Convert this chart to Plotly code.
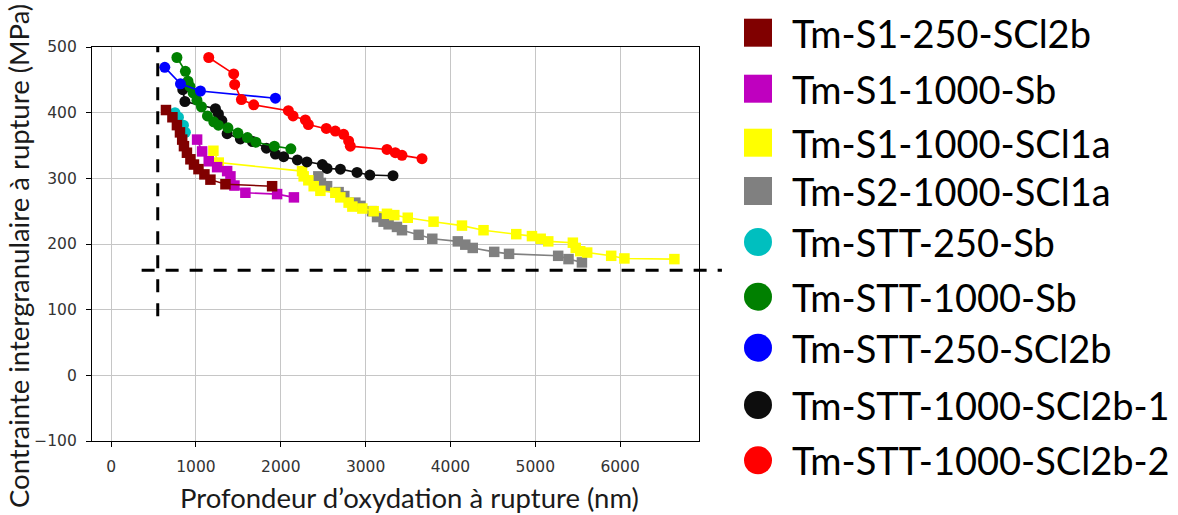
import plotly.graph_objects as go

# ---------------- data ----------------
names = ["Tm-S1-250-SCl2b", "Tm-S1-1000-Sb", "Tm-S1-1000-SCl1a", "Tm-S2-1000-SCl1a",
         "Tm-STT-250-Sb", "Tm-STT-1000-Sb", "Tm-STT-250-SCl2b",
         "Tm-STT-1000-SCl2b-1", "Tm-STT-1000-SCl2b-2"]
colors = ["#800000", "#bf00bf", "#ffff00", "#808080",
          "#00bfbf", "#008000", "#0000ff", "#0d0d0d", "#ff0000"]
symbols = ["square", "square", "square", "square",
           "circle", "circle", "circle", "circle", "circle"]

s1_250_scl2b_x = [647, 723, 776, 812, 838, 859, 894, 935, 977, 1030, 1100, 1171, 1348, 1898]
s1_250_scl2b_y = [404, 393, 381, 370, 359, 349, 339, 329, 321, 314, 306, 298, 291, 288]

s1_1000_sb_x = [1014, 1073, 1151, 1250, 1368, 1407, 1454, 1583, 1957, 2155]
s1_1000_sb_y = [359, 341, 326, 317, 311, 303, 289, 278, 276, 271]

s1_1000_scl1a_x = [1206, 1269, 2251, 2270, 2325, 2388, 2467, 2643, 2702, 2800, 2844, 2962,
                   3095, 3252, 3338, 3497, 3801, 4136, 4390, 4776, 4961, 5064, 5153, 5443,
                   5477, 5530, 5612, 5895, 6051, 6640]
s1_1000_scl1a_y = [342, 324, 311, 303, 297, 288, 281, 278, 271, 263, 257, 254,
                   250, 246, 244, 240, 234, 228, 221, 215, 212, 208, 204, 202,
                   194, 189, 187, 182, 178, 177]

s2_1000_scl1a_x = [2443, 2473, 2546, 2682, 2749, 2879, 2938, 3076, 3135, 3212, 3271, 3370,
                   3429, 3625, 3786, 4087, 4175, 4263, 4516, 4691, 5270, 5392, 5550]
s2_1000_scl1a_y = [303, 293, 288, 279, 273, 263, 258, 250, 241, 234, 230, 226,
                   221, 214, 208, 204, 199, 194, 188, 185, 182, 177, 172]

stt_250_sb_x = [753, 794, 853, 876]
stt_250_sb_y = [400, 393, 381, 370]

stt_1000_sb_x = [776, 876, 906, 929, 967, 1012, 1065, 1136, 1210, 1265, 1377, 1495,
                 1607, 1707, 1925, 2119]
stt_1000_sb_y = [484, 463, 448, 440, 430, 419, 409, 395, 386, 381, 377, 369,
                 362, 355, 349, 345]

stt_250_scl2b_x = [633, 818, 1053, 1937]
stt_250_scl2b_y = [469, 444, 433, 422]

stt_1000_scl2b1_x = [845, 870, 1230, 1265, 1306, 1368, 1524, 1666, 1831, 1937, 2034, 2196,
                     2308, 2490, 2546, 2703, 2899, 3050, 3323]
stt_1000_scl2b1_y = [435, 417, 406, 398, 388, 368, 360, 356, 346, 337, 333, 328,
                     325, 321, 315, 314, 309, 305, 304]

stt_1000_scl2b2_x = [1151, 1445, 1457, 1536, 1681, 2090, 2145, 2290, 2325, 2537, 2643, 2741,
                     2800, 2820, 3252, 3350, 3429, 3665]
stt_1000_scl2b2_y = [484, 459, 443, 420, 412, 403, 395, 389, 382, 376, 372, 367,
                     357, 349, 344, 339, 335, 330]

series_x = [s1_250_scl2b_x, s1_1000_sb_x, s1_1000_scl1a_x, s2_1000_scl1a_x, stt_250_sb_x,
            stt_1000_sb_x, stt_250_scl2b_x, stt_1000_scl2b1_x, stt_1000_scl2b2_x]
series_y = [s1_250_scl2b_y, s1_1000_sb_y, s1_1000_scl1a_y, s2_1000_scl1a_y, stt_250_sb_y,
            stt_1000_sb_y, stt_250_scl2b_y, stt_1000_scl2b1_y, stt_1000_scl2b2_y]

# threshold guide lines (nm, MPa)
depth_threshold = 550
stress_threshold = 160
vline_y_span = [90, 500]
hline_x_span = [360, 7200]

x_ticks = [0, 1000, 2000, 3000, 4000, 5000, 6000]
y_ticks = [-100, 0, 100, 200, 300, 400, 500]
x_title = "Profondeur d\u2019oxydation \u00e0 rupture (nm)"
y_title = "Contrainte intergranulaire \u00e0 rupture (MPa)"

# ---------------- layout geometry (pixels) ----------------
W, H = 1178, 515
ML, MR, MT, MB = 92, 0, 0, 0
PW, PH = W - ML - MR, H - MT - MB
plot_left, plot_right, plot_top, plot_bottom = 92, 699, 47, 441
X_RANGE = [-225, 6930]
Y_RANGE = [-100, 500]
x_dom = [(plot_left - ML) / PW, (plot_right - ML) / PW]
y_dom = [(H - MB - plot_bottom) / PH, (H - MB - plot_top) / PH]


def xpaper(v):
    return x_dom[0] + (v - X_RANGE[0]) / (X_RANGE[1] - X_RANGE[0]) * (x_dom[1] - x_dom[0])


def ypaper(v):
    return y_dom[0] + (v - Y_RANGE[0]) / (Y_RANGE[1] - Y_RANGE[0]) * (y_dom[1] - y_dom[0])


fig = go.Figure()

draw_order = [3, 2, 1, 4, 0, 7, 5, 6, 8]
for i in draw_order:
    fig.add_trace(go.Scatter(
        x=series_x[i], y=series_y[i], mode="lines+markers", name=names[i],
        line=dict(color=colors[i], width=1.6),
        marker=dict(color=colors[i], symbol=symbols[i], size=11 if symbols[i] == "circle" else 10.5),
        showlegend=False, xaxis="x", yaxis="y"))

# custom legend (large markers, as in the reference)
legend_left = 744
legend_rows_py = [32.7, 88.7, 142.7, 191, 242, 296.7, 347.7, 405, 460.3]
for i, name in enumerate(names):
    fig.add_trace(go.Scatter(
        x=[14], y=[legend_rows_py[i]], mode="markers",
        marker=dict(color=colors[i], symbol=symbols[i], size=28),
        showlegend=False, hoverinfo="skip", xaxis="x2", yaxis="y2"))
    fig.add_annotation(x=46, y=legend_rows_py[i], xref="x2", yref="y2", text=name,
                       showarrow=False, xanchor="left", yanchor="middle",
                       font=dict(family="Lato", size=38, color="black"))

axis_common = dict(showgrid=True, gridcolor="#c6c6c6", gridwidth=1.2,
                   showline=True, linecolor="black", linewidth=1.2, mirror=True,
                   ticks="outside", ticklen=5, tickcolor="black", tickwidth=1.2,
                   zeroline=False, automargin=False,
                   tickfont=dict(family="DejaVu Sans", size=15.5, color="#333333"))

fig.update_layout(
    width=W, height=H,
    margin=dict(l=ML, r=MR, t=MT, b=MB, autoexpand=False),
    paper_bgcolor="white", plot_bgcolor="white",
    xaxis=dict(domain=x_dom, range=X_RANGE, tickvals=x_ticks, ticklabelstandoff=6, **axis_common),
    yaxis=dict(domain=y_dom, range=Y_RANGE, tickvals=y_ticks, ticklabelstandoff=6, **axis_common),
    xaxis2=dict(domain=[(legend_left - ML) / PW, 1], range=[0, W - legend_left], visible=False,
                fixedrange=True, automargin=False),
    yaxis2=dict(domain=[0, 1], range=[PH, 0], visible=False, fixedrange=True, automargin=False),
    showlegend=False,
)

# axis titles
fig.add_annotation(x=(409 - ML) / PW, y=(H - MB - 497) / PH, xref="paper", yref="paper",
                   text=x_title, showarrow=False, xanchor="center", yanchor="middle",
                   font=dict(family="Lato", size=27.5, color="#1a1a1a"))
fig.add_annotation(x=(18 - ML) / PW, y=(H - MB - 256) / PH, xref="paper", yref="paper",
                   text=y_title, showarrow=False, textangle=-90, xanchor="center", yanchor="middle",
                   font=dict(family="Lato", size=27.5, color="#1a1a1a"))

# dashed threshold lines (drawn beyond the axes like in the reference)
dash_line = dict(color="black", width=3, dash="13px,11px")
fig.add_shape(type="line", xref="paper", yref="paper",
              x0=xpaper(depth_threshold), x1=xpaper(depth_threshold),
              y0=ypaper(vline_y_span[0]), y1=ypaper(vline_y_span[1]), line=dash_line)
fig.add_shape(type="line", xref="paper", yref="paper",
              x0=xpaper(hline_x_span[0]), x1=xpaper(hline_x_span[1]),
              y0=ypaper(stress_threshold), y1=ypaper(stress_threshold), line=dash_line)

fig.write_html("out.html", config={"displayModeBar": False},
               post_script="document.body.style.margin='0px';")
